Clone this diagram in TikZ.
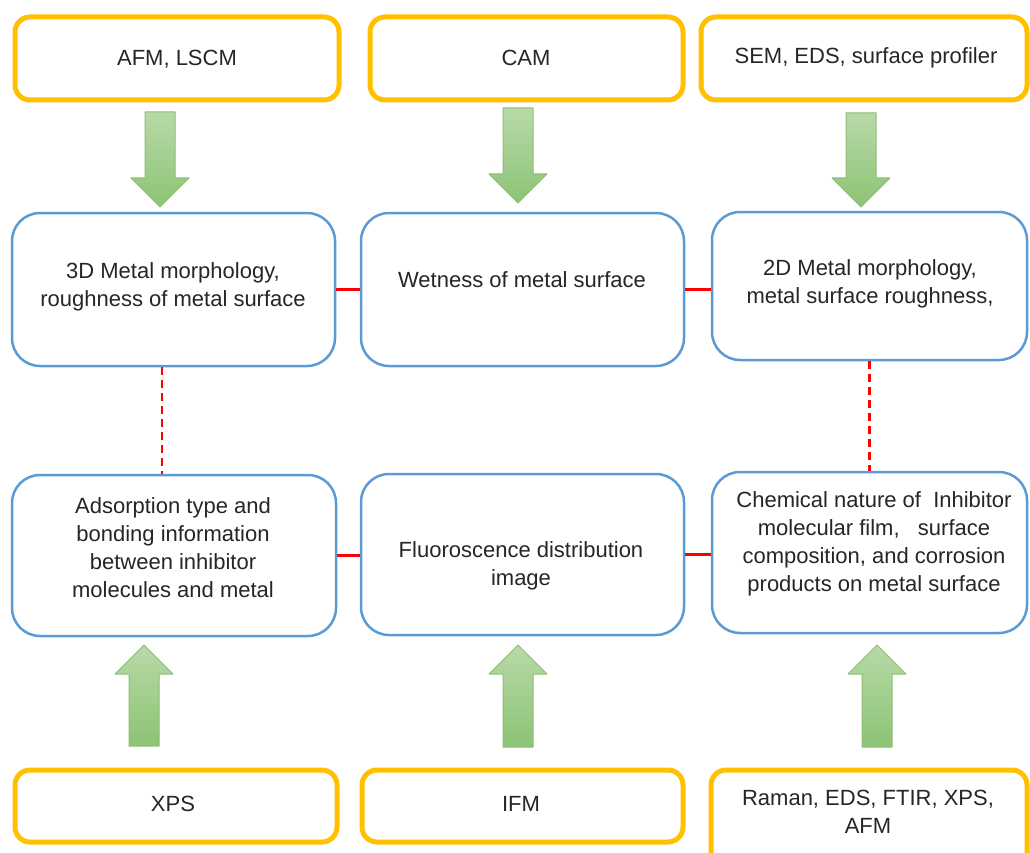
\documentclass[tikz,border=0pt]{standalone}
\usepackage{fontspec}
\setmainfont{Liberation Sans}
\usetikzlibrary{calc}

\definecolor{boxgold}{HTML}{FFC000}
\definecolor{boxblue}{HTML}{5B9BD5}
\definecolor{linkred}{HTML}{FF0000}
\definecolor{arrowtop}{HTML}{B8D9A8}
\definecolor{arrowbot}{HTML}{8CC474}
\definecolor{arrowedge}{HTML}{8CBF76}
\definecolor{txtgray}{HTML}{262626}

% Block arrow from #2 (tail) to #3 (tip); #1 prefixes helper coordinates
\newcommand{\fatarrow}[3]{%
  \coordinate (#1-h) at ($(#3)!29pt!(#2)$);
  \path[fatarrowstyle]
    ($(#2)!15pt!90:(#3)$) -- ($(#1-h)!15pt!90:(#3)$) -- ($(#1-h)!29pt!90:(#3)$)
    -- (#3)
    -- ($(#1-h)!29pt!-90:(#3)$) -- ($(#1-h)!15pt!-90:(#3)$) -- ($(#2)!15pt!-90:(#3)$) -- cycle;}

\tikzset{
  method/.style={draw=boxgold, line width=5pt, rounded corners=15pt, fill=white, inner sep=0pt},
  result/.style={draw=boxblue, line width=2.5pt, rounded corners=28pt, fill=white, inner sep=0pt},
  txt/.style={font=\fontsize{22pt}{28pt}\selectfont, text=txtgray, align=center, inner sep=0pt},
  link/.style={draw=linkred, line width=2.2pt},
  dashlink/.style={link, dash pattern=on 8pt off 5pt},
  fatarrowstyle/.style={top color=arrowtop, bottom color=arrowbot, draw=arrowedge, line width=1pt, line join=round},
}

\begin{document}
\begin{tikzpicture}[x=1pt, y=-1pt]
  \clip (0,0) rectangle (1030,853);
  \fill[white] (0,0) rectangle (1030,853);

  % measurement techniques (top row)
  \node[method, minimum width=324pt, minimum height=83pt] (y1) at (177,58.5) {};
  \node[method, minimum width=313pt, minimum height=83pt] (y2) at (526.5,58.5) {};
  \node[method, minimum width=326pt, minimum height=83pt] (y3) at (864,58.5) {};

  % surface properties
  \node[result, minimum width=323pt, minimum height=153pt] (b1) at (173.5,289.5) {};
  \node[result, minimum width=323pt, minimum height=153pt] (b2) at (522.5,289.5) {};
  \node[result, minimum width=315pt, minimum height=148pt] (b3) at (869.5,286) {};
  \node[result, minimum width=324pt, minimum height=161pt] (b4) at (174,555.5) {};
  \node[result, minimum width=323pt, minimum height=161pt] (b5) at (522.5,554.5) {};
  \node[result, minimum width=315pt, minimum height=161pt] (b6) at (869.5,552.5) {};

  % measurement techniques (bottom row)
  \node[method, minimum width=322pt, minimum height=72pt] (y4) at (176,806) {};
  \node[method, minimum width=321pt, minimum height=72pt] (y5) at (522.5,806) {};
  \node[method, minimum width=316pt, minimum height=100pt] (y6) at (869,820) {};

  % labels
  \node[txt] (t-y1) at (177,59) {AFM, LSCM};
  \node[txt] (t-y2) at (526,58) {CAM};
  \node[txt] (t-y3) at (866,58) {SEM, EDS, surface profiler};
  \node[txt] (t-b1) at (173,287) {3D Metal morphology,\\roughness of metal surface};
  \node[txt] (t-b2) at (522,280) {Wetness of metal surface};
  \node[txt] (t-b3) at (870,284) {2D Metal morphology,\\metal surface roughness,};
  \node[txt] (t-b4) at (173,548) {Adsorption type and\\bonding information\\between inhibitor\\molecules and metal};
  \node[txt] (t-b5) at (521,566) {Fluoroscence distribution\\image};
  \node[txt] (t-b6) at (874,544) {Chemical nature of~ Inhibitor\\molecular film,~~ surface\\composition, and corrosion\\products on metal surface};
  \node[txt] (t-y4) at (173,804) {XPS};
  \node[txt] (t-y5) at (521,804) {IFM};
  \node[txt] (t-y6) at (868,812) {Raman, EDS, FTIR, XPS,\\AFM};

  % red links between property boxes
  \draw[link] (b1) -- (b2);
  \draw[link] (b2.east) -- (b2.east -| b3.west);
  \draw[link] (b4.east) -- (b4.east -| b5.west);
  \draw[link] (b5.east) -- (b5.east -| b6.west);
  \draw[dashlink] ([xshift=-11.5pt]b1.south) -- ([xshift=-11.5pt]b1.south |- b4.north);
  \draw[dashlink] (b3.south) -- (b3.south |- b6.north);

  % green block arrows
  \coordinate (a1s) at (160,112); \coordinate (a1t) at (160,207);
  \coordinate (a2s) at (518,108); \coordinate (a2t) at (518,203);
  \coordinate (a3s) at (861,113); \coordinate (a3t) at (861,207);
  \coordinate (a4s) at (144,746); \coordinate (a4t) at (144,645);
  \coordinate (a5s) at (518,747); \coordinate (a5t) at (518,645);
  \coordinate (a6s) at (877,747); \coordinate (a6t) at (877,645);
  \fatarrow{a1}{a1s}{a1t}
  \fatarrow{a2}{a2s}{a2t}
  \fatarrow{a3}{a3s}{a3t}
  \fatarrow{a4}{a4s}{a4t}
  \fatarrow{a5}{a5s}{a5t}
  \fatarrow{a6}{a6s}{a6t}
\end{tikzpicture}
\end{document}
